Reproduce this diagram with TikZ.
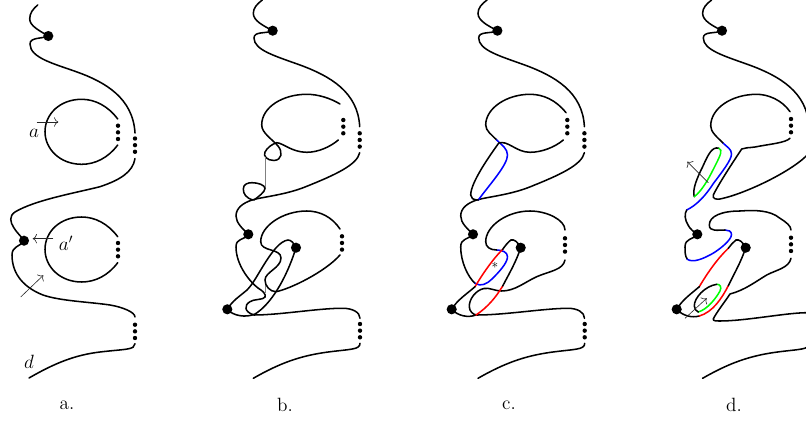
\documentclass[tikz,border=0pt]{standalone}
\usepackage{amsmath,amssymb}
\usepackage{xcolor}
\usetikzlibrary{arrows.meta}

% pieces shared by the panels
\newcommand{\topstrand}{
  \draw[curve] (262.3,0) .. controls (257,4) and (253.3,8) .. (253.3,13.3) .. controls (253.3,21) and (264,26) .. (272.7,30.7);
  \draw[curve] (272.7,30.7) .. controls (266,34) and (254,31) .. (254,38) .. controls (254,50) and (275,56) .. (300,65) .. controls (330,76) and (358,92) .. (359.7,126.7);
  \node[puncture] (top) at (272.7,30.7) {};
}
\newcommand{\outerstrand}{
  \draw[curve] (359.7,152.7) .. controls (357,165) and (335,175) .. (305,187) .. controls (285,195) and (262,197) .. (252,200) .. controls (243,203) and (236,208) .. (236,216) .. controls (236,223) and (243,229) .. (248.3,234.3);
}
\newcommand{\bottomend}{
  \draw[curve] (360,343.3) .. controls (360,350) and (350,349) .. (326,352.3) .. controls (300,356) and (280,363) .. (253.3,378.3);
}
\newcommand{\dotsat}[2]{
  \foreach \k in {0,1,2} { \node[dotmark] (m#1\k) at (#1,#2+6.65*\k) {}; }
}
\newcommand{\circlea}{
  \draw[curve] (117.7,119) .. controls (108,106) and (95,99.3) .. (81.7,99.3) .. controls (60,99.3) and (45,114) .. (45,131.7) .. controls (45,149) and (60,164.3) .. (81.7,164.3) .. controls (95,164.3) and (108,158) .. (117.7,145);
}

\begin{document}
\begin{tikzpicture}[x=0.75pt,y=-0.75pt,
  curve/.style={line width=1.15pt,line cap=round},
  thin arrow/.style={line width=0.45pt,black!85,-{To[length=3.2pt,width=7pt]}},
  puncture/.style={circle,fill=black,inner sep=0pt,minimum size=7.6pt},
  dotmark/.style={circle,fill=black,inner sep=0pt,minimum size=3.3pt},
  lab/.style={font=\Large,inner sep=0pt}]
\useasboundingbox (0,0) rectangle (806,424);

% panel a
\draw[curve] (37.7,5) .. controls (33,9) and (29.7,13) .. (29.7,19) .. controls (29.7,26) and (40,31) .. (48.3,36);
\draw[curve] (48.3,36) .. controls (42,39) and (30,37) .. (30,44) .. controls (30,58) and (55,64) .. (77,72) .. controls (105,82) and (133,98) .. (135,133);
\node[puncture] (pa) at (48.3,36) {};
\dotsat{135}{138.5}
\draw[curve] (135,158.5) .. controls (133,172) and (120,180) .. (100,186.7) .. controls (75,193) and (35,200) .. (15,212) .. controls (9,216) and (10,222) .. (14,228) .. controls (17,233) and (21,236) .. (24,240.7);
\node[puncture] (qa) at (24,240.7) {};
\draw[curve] (24,240.7) .. controls (20,247) and (12,246) .. (12,255) .. controls (12,275) and (25,288) .. (43,295) .. controls (60,301) and (90,302) .. (110,305) .. controls (122,307) and (135,312) .. (135,317);
\dotsat{135}{324.7}
\draw[curve] (135,343.7) .. controls (135,350) and (125,349) .. (100,352) .. controls (75,355) and (55,363) .. (29,378);
\circlea
\dotsat{118}{125.7}
\begin{scope}[shift={(0,117.7)}]
  \circlea
\end{scope}
\dotsat{118}{243}
\draw[thin arrow] (36.7,122) -- (58.3,122);
\draw[thin arrow] (53.3,238.7) -- (32.7,238.7);
\draw[thin arrow] (20.7,297) -- (43.3,275.3);
\node[lab] (la) at (34,133) {$a$};
\node[lab] (lap) at (66,243.5) {$a'$};
\node[lab] (ld) at (29,362) {$d$};
\node[lab] (capa) at (67,405) {a.};

% panel b
\topstrand
\dotsat{359.7}{133.3}
\outerstrand
\node[puncture] (qb) at (248.3,234.3) {};
\draw[curve] (340,104) .. controls (330,98) and (318,94.3) .. (306.7,94.3) .. controls (283,94.3) and (261.7,107) .. (261.7,125) .. controls (261.7,133) and (272,139) .. (278,146) .. controls (283,152) and (282,160) .. (274,160.5) .. controls (267,160.5) and (263,156) .. (265,152) .. controls (267,148) and (272,144) .. (276.7,142.7) .. controls (283,143) and (292,152.3) .. (306.7,152.3) .. controls (318,152.3) and (330,147) .. (338.3,140);
\dotsat{343.3}{120}
\draw[line width=0.5pt,gray] (265,156.7) -- (265,188.3);
\draw[curve] (253,200) .. controls (246,198) and (243.3,194) .. (243.3,189) .. controls (243.3,184) and (248,182.7) .. (252,182.7) .. controls (258,182.7) and (265,185) .. (265,188.5) .. controls (265,192) and (258,197) .. (254,200);
\draw[curve] (248.3,234.3) .. controls (243,241) and (236,238) .. (236,247) .. controls (236,265) and (250,282) .. (258,288) .. controls (263,291) and (266,294) .. (265,297) .. controls (264,300) and (253,299) .. (250,301.7) .. controls (244,305) and (244,312) .. (254,315) .. controls (280,315) and (320,308) .. (343,308.3) .. controls (352,308.3) and (360,312) .. (360,318.3);
\draw[line width=0.5pt,gray] (265,283.3) -- (265,293.3);
\dotsat{360}{324}
\bottomend
\draw[curve] (340,229) .. controls (332,217) and (320,211) .. (306.7,211) .. controls (283,211) and (260.7,226) .. (260.7,241.7) .. controls (260.7,252) and (281,248) .. (281,258) .. controls (281,268) and (265,272) .. (265,280) .. controls (265,286) and (270,291.7) .. (276,291.7) .. controls (290,289) and (325,272) .. (340,255);
\dotsat{342}{236.3}
\draw[curve] (296,247.7) .. controls (294,243) and (291,240) .. (288,240) .. controls (280,241) and (272,252) .. (265,263) .. controls (258,274) and (253,284) .. (247,290) .. controls (240,296) and (232,301) .. (227.3,309.3);
\draw[curve] (227.3,309.3) .. controls (233,316) and (246,318) .. (255,314) .. controls (270,305) and (286,280) .. (296,247.7);
\node[puncture] (pb) at (296,247.7) {};
\node[puncture] (rb) at (227.3,309.3) {};
\node[lab] (capb) at (285,405) {b.};

% panel c
\begin{scope}[shift={(224.7,0)}]
  \topstrand
  \outerstrand
  \bottomend
\end{scope}
\dotsat{584.4}{133.3}
\node[puncture] (qc) at (473,234.3) {};
\draw[curve] (566,112.7) .. controls (556,100) and (543,94.3) .. (530,94.3) .. controls (507,94.3) and (485.7,108) .. (485.7,125) .. controls (485.7,131) and (492,135) .. (496.7,140);
\dotsat{567.3}{120}
\draw[curve,blue] (496.7,140) .. controls (502,145) and (507.5,149) .. (507.5,155) .. controls (507.5,165) and (490,184) .. (478.3,200);
\draw[curve] (498.8,143) .. controls (488,158) and (470.7,183) .. (470.7,195) .. controls (470.7,198) and (473,200) .. (478.3,200);
\draw[curve] (498.8,143) .. controls (508,140) and (516,152.3) .. (530,152.3) .. controls (542,152.3) and (555,147) .. (563.3,140);
\draw[curve] (472.7,234.3) .. controls (468,240) and (460.7,238) .. (460.7,247) .. controls (460.7,262) and (468,277) .. (475,283.3);
\draw[curve,blue] (475,283.3) .. controls (481,287) and (487,284) .. (492,279) .. controls (499,272) and (507.5,263) .. (507.5,256.7) .. controls (507.5,252) and (502,250) .. (496.7,250);
\draw[curve] (496.7,250) .. controls (490,250) and (485.7,247) .. (485.7,241.7) .. controls (485.7,226) and (507,211) .. (530,211) .. controls (547,211) and (565,220) .. (565,230);
\dotsat{565}{238.3}
\draw[curve] (565,260) .. controls (563,270) and (550,271) .. (536.7,276.7) .. controls (525,282) and (515,291) .. (501.7,291) .. controls (495,291) and (490,287.5) .. (484,288.5) .. controls (476,290) and (469,299) .. (469.3,306.7) .. controls (469.3,311) and (473,315) .. (477,315) .. controls (505,315) and (545,308.3) .. (568,308.3) .. controls (577,308.3) and (584.5,312) .. (584.5,318.3);
\dotsat{584.7}{324}
\draw[curve,red] (502.7,249.3) .. controls (492,260) and (482,275) .. (475,286.7);
\draw[curve] (475,286.7) .. controls (468,293) and (457,300) .. (451.7,309.3);
\draw[curve] (451.7,309.3) .. controls (458,316) and (468,318) .. (476,315);
\draw[curve,red] (476,315) .. controls (488,307) and (496,297) .. (502.7,286);
\draw[curve] (502.7,286) .. controls (510,272) and (516,262) .. (520.7,247.7);
\draw[curve] (520.7,247.7) .. controls (518,242) and (514,239) .. (511,240) .. controls (508,242) and (505,246) .. (502.7,249.3);
\node[puncture] (pc) at (520.7,247.7) {};
\node[puncture] (rc) at (451.7,309.3) {};
\node[lab,font=\normalsize] (star) at (495,265) {$*$};
\node[lab] (capc) at (509,405) {c.};

% panel d
\begin{scope}[shift={(449.3,0)}]
  \topstrand
  \bottomend
\end{scope}
\draw[curve] (790,111.7) .. controls (782,100) and (768,94.3) .. (756.7,94.3) .. controls (732,94.3) and (710.7,108) .. (710.7,126) .. controls (710.7,132) and (717,137) .. (723.3,143.3);
\dotsat{791}{119}
\draw[curve,blue] (723.3,143.3) .. controls (727,147) and (731.5,149) .. (731.5,154) .. controls (731.5,160) and (722,172) .. (713,184) .. controls (706,195) and (697,205) .. (686.7,210);
\draw[curve] (686.7,210) .. controls (684,214) and (685,220) .. (688,225) .. controls (690,229) and (694,232) .. (697.3,234.3);
\node[puncture] (qd) at (697.3,234.3) {};
\draw[curve] (697.3,234.3) .. controls (693,240) and (685,238) .. (685,247) .. controls (685,252) and (685,256) .. (687.3,259.3);
\draw[curve,blue] (687.3,259.3) .. controls (693,263) and (703,259) .. (713,253.3) .. controls (720,249) and (731.5,240) .. (731.5,234.5) .. controls (731.5,231) and (728,230) .. (725,230);
\draw[curve] (725,230) .. controls (718,230) and (709.3,232) .. (709.3,225) .. controls (709.3,216) and (722,211) .. (740,211) .. controls (755,210) and (770,210) .. (780,218.3) .. controls (786,222) and (791,226) .. (791,230);
\dotsat{791}{237.7}
\draw[curve] (791,258.3) .. controls (789,268) and (776,270) .. (766.7,275) .. controls (755,282) and (745,290) .. (730,294) .. controls (724,303) and (716,313) .. (713.3,319) .. controls (713,321) and (716,321) .. (720,321) .. controls (745,321) and (785,313) .. (806,312.7) .. controls (807,314) and (808,316) .. (809,318);
\draw[curve] (790,138.3) .. controls (785,143) and (770,144) .. (755,147) .. controls (748,148) and (745,147.5) .. (741.7,149) .. controls (733,162) and (718,185) .. (713.3,195) .. controls (712.5,199) and (716,199.5) .. (720,199) .. controls (745,194) and (795,170) .. (809.3,152.7);
\draw[curve] (719,148.3) .. controls (712,146) and (708,155) .. (703,166) .. controls (697,178) and (692,190) .. (694.3,196.7);
\draw[curve,green] (694.3,196.7) .. controls (703,190) and (710,176) .. (716,164) .. controls (720,156) and (723,150) .. (719,148.3);
\draw[thin arrow] (708.3,182.7) -- (687.3,161.7);
\draw[curve,red] (728.3,248.3) .. controls (718,258) and (708,272) .. (699.3,286.7);
\draw[curve] (699.3,286.7) .. controls (692,293) and (682,300) .. (676.7,309.3);
\draw[curve] (676.7,309.3) .. controls (683,316) and (692,318) .. (699.3,316);
\draw[curve,red] (699.3,316) .. controls (713,312) and (722,298) .. (728.3,285.7);
\draw[curve] (728.3,285.7) .. controls (735,272) and (741,262) .. (745.7,247.7);
\draw[curve] (745.7,247.7) .. controls (743,242) and (739,239) .. (736,240) .. controls (733,242) and (731,245) .. (728.3,248.3);
\draw[curve,green] (698.3,312) .. controls (708,309) and (716,298) .. (720,291) .. controls (722,287) and (720,284) .. (716.7,284.3);
\draw[curve] (716.7,284.3) .. controls (705,286) and (694,298) .. (694.3,306) .. controls (694.5,309) and (696,311) .. (698.3,312);
\draw[thin arrow] (685,318.3) -- (706.7,298.3);
\node[puncture] (pd) at (745.7,247.7) {};
\node[puncture] (rd) at (676.7,309.3) {};
\node[lab] (capd) at (734,405) {d.};
\end{tikzpicture}
\end{document}
